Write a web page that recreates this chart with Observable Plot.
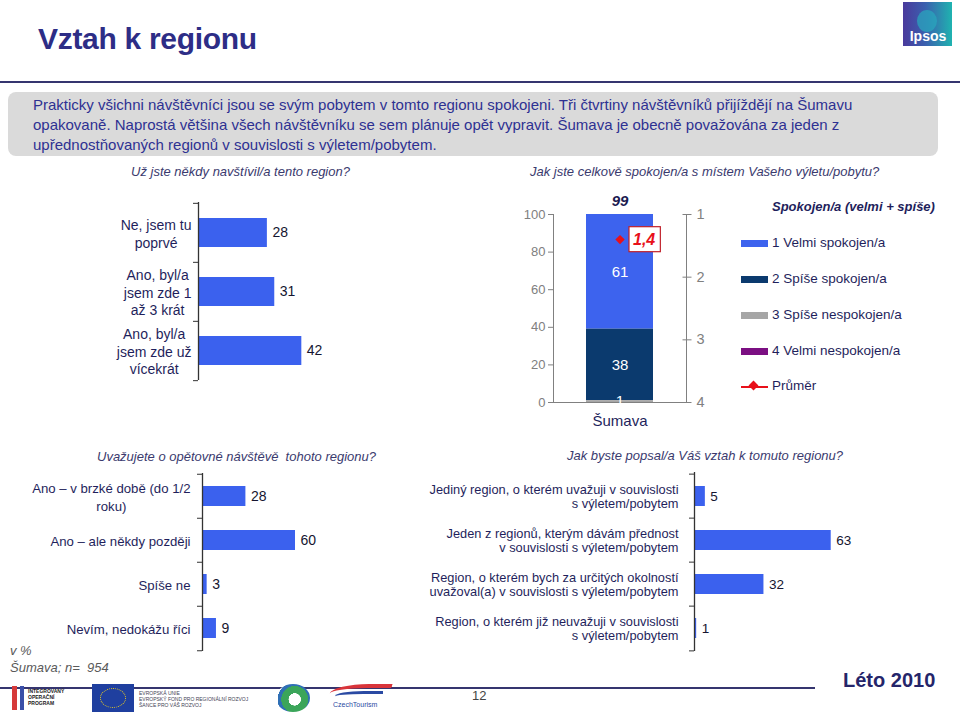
<!DOCTYPE html>
<html>
<head>
<meta charset="utf-8">
<script src="https://cdn.jsdelivr.net/npm/d3@7"></script>
<script src="https://cdn.jsdelivr.net/npm/@observablehq/plot@0.6"></script>
<style>
  html, body { margin: 0; padding: 0; background: #fff; }
  #page { position: relative; width: 960px; height: 715px; overflow: hidden; font-family: 'Liberation Sans', Arial, sans-serif; }
  .abs { position: absolute; }
  .q { font-size: 13px; font-style: italic; color: #3a3a6e; line-height: 16px; white-space: nowrap; }
  .legend-item { position: absolute; left: 741px; height: 18px; font-size: 13.5px; color: #1f1f5c; line-height: 18px; white-space: nowrap; }
  .sw { position: absolute; left: 0; top: 6px; width: 27px; height: 7px; }
  .legend-item span.t { position: absolute; left: 31px; top: 0; }
  .tiny { font-size: 5px; line-height: 6px; color: #445; white-space: nowrap; }
</style>
</head>
<body>
<div id="page">
  <div class="abs" style="left:38px;top:24px;font-size:30px;line-height:30px;font-weight:bold;color:#2d2d86;letter-spacing:-0.3px;">Vztah k regionu</div>
  <div class="abs" style="left:903px;top:2px;width:49px;height:44px;background:linear-gradient(90deg,#4a3a9c 0%,#3b5fae 45%,#1fb3b0 100%);"></div>
  <div class="abs" style="left:917px;top:10px;width:20px;height:22px;border-radius:50%;background:rgba(40,170,190,0.7);"></div>
  <div class="abs" style="left:905px;top:28px;width:46px;text-align:center;font-size:14px;font-weight:bold;color:#fff;line-height:16px;">Ipsos</div>
  <div class="abs" style="left:0;top:81px;width:960px;height:2px;background:#35356f;"></div>
  <div class="abs" style="left:8px;top:92px;width:930px;height:64px;background:#dadada;border-radius:8px;"></div>
  <div class="abs" style="left:33px;top:95px;font-size:15px;line-height:20px;color:#2e3192;white-space:nowrap;">Prakticky všichni návštěvníci jsou se svým pobytem v tomto regionu spokojeni. Tři čtvrtiny návštěvníků přijíždějí na Šumavu<br>opakovaně. Naprostá většina všech návštěvníku se sem plánuje opět vypravit. Šumava je obecně považována za jeden z<br>upřednostňovaných regionů v souvislosti s výletem/pobytem.</div>

  <div class="abs q" style="left:131px;top:164px;">Už jste někdy navštívil/a tento region?</div>
  <div class="abs q" style="left:530px;top:164px;">Jak jste celkově spokojen/a s místem Vašeho výletu/pobytu?</div>
  <div class="abs q" style="left:97px;top:449px;">Uvažujete o opětovné návštěvě&nbsp; tohoto regionu?</div>
  <div class="abs q" style="left:567px;top:448px;">Jak byste popsal/a Váš vztah k tomuto regionu?</div>

  <div id="chartA" class="abs" style="left:0;top:195px;"></div>
  <div id="chartB" class="abs" style="left:500px;top:190px;"></div>
  <div id="legendB" class="abs" style="left:0;top:0;"></div>
  <div id="chartC" class="abs" style="left:0;top:465px;"></div>
  <div id="chartD" class="abs" style="left:420px;top:465px;"></div>

  <div class="abs" style="left:10px;top:643px;font-size:13px;line-height:16px;font-style:italic;color:#5a5a5a;">v %</div>
  <div class="abs" style="left:10px;top:660px;font-size:13px;line-height:16px;font-style:italic;color:#5a5a5a;white-space:nowrap;">Šumava; n=&nbsp; 954</div>
  <div class="abs" style="left:0;top:687px;width:815px;height:2px;background:#35356f;"></div>
  <div class="abs" style="left:843px;top:669px;font-size:20px;line-height:22px;font-weight:bold;color:#25256a;white-space:nowrap;">Léto 2010</div>
  <div class="abs" style="left:472px;top:688px;font-size:13px;line-height:15px;color:#444;">12</div>

  <!-- footer logos (approximate) -->
  <div class="abs" style="left:12px;top:686px;width:5px;height:24px;background:#d63a3a;"></div>
  <div class="abs" style="left:20px;top:686px;width:4px;height:24px;background:#3a4fa8;"></div>
  <div class="abs tiny" style="left:28px;top:688px;font-weight:bold;color:#222;">INTEGROVANÝ<br>OPERAČNÍ<br>PROGRAM</div>
  <div class="abs" style="left:92px;top:684px;width:42px;height:28px;background:#1f3f9f;"></div>
  <div class="abs" style="left:100px;top:688px;width:26px;height:20px;border:1.5px dotted #f2d01c;border-radius:50%;box-sizing:border-box;"></div>
  <div class="abs tiny" style="left:139px;top:690px;">EVROPSKÁ UNIE<br>EVROPSKÝ FOND PRO REGIONÁLNÍ ROZVOJ<br>ŠANCE PRO VÁŠ ROZVOJ</div>
  <div class="abs" style="left:276px;top:684px;width:34px;height:28px;border-radius:50%;background:radial-gradient(circle at 55% 55%,#ffffff 0 25%,#3ba55a 26% 55%,#2f6fb5 56% 70%,#fff 71%);"></div>
  <div class="abs" style="left:330px;top:684px;width:60px;height:12px;border-top:4px solid #d9343a;border-radius:60% 0 0 0;transform:skewX(-20deg);"></div>
  <div class="abs" style="left:335px;top:691px;width:48px;height:6px;border-top:3px solid #2a4aa3;border-radius:60% 0 0 0;"></div>
  <div class="abs" style="left:333px;top:701px;font-size:7px;line-height:8px;color:#2a4aa3;">CzechTourism</div>
</div>

<script>
// ---------------- data ----------------
const visitCats = ["Ne, jsem tu\npoprvé", "Ano, byl/a\njsem zde 1\naž 3 krát", "Ano, byl/a\njsem zde už\nvícekrát"];
const visitVals = [28, 31, 42];

const satRegion = "Šumava";
const satCats = ["1 Velmi spokojen/a", "2 Spíše spokojen/a", "3 Spíše nespokojen/a", "4 Velmi nespokojen/a"];
const satVals = [61, 38, 1, 0];
const satColors = ["#3d63ee", "#0b3a6e", "#a6a6a6", "#7b0f82"];
const satTotalLabel = 99;
const satMean = 1.4;
const satLeftTicks = [0, 20, 40, 60, 80, 100];
const satMeanTicks = [1, 2, 3, 4];
const legendTitle = "Spokojen/a (velmi + spíše)";
const meanName = "Průměr";

const returnCats = ["Ano – v brzké době (do 1/2\nroku)", "Ano – ale někdy později", "Spíše ne", "Nevím, nedokážu říci"];
const returnVals = [28, 60, 3, 9];

const relCats = [
  "Jediný region, o kterém uvažuji v souvislosti\ns výletem/pobytem",
  "Jeden z regionů, kterým dávám přednost\nv souvislosti s výletem/pobytem",
  "Region, o kterém bych za určitých okolností\nuvažoval(a) v souvislosti s výletem/pobytem",
  "Region, o kterém již neuvažuji v souvislosti\ns výletem/pobytem"
];
const relVals = [5, 63, 32, 1];

// ---------------- styles ----------------
const fontFamily = "'Liberation Sans', Arial, sans-serif";
const barBlue = "#3b61ee";
const axisDark = "#333333";
const axisGrey = "#808080";
const labelInk = "#1f1f5c";
const valueInk = "#151530";
const meanRed = "#e8101a";

const ctx = document.createElement("canvas").getContext("2d");
function maxLineWidth(s, size) {
  ctx.font = `${size}px 'Liberation Sans', Arial`;
  return d3.max(s.split("\n"), l => ctx.measureText(l).width);
}

function hbar(o) {
  const data = o.cats.map((c, i) => ({cat: c, value: o.vals[i]}));
  const plotH = o.height - o.mt - o.mb;
  const step = plotH / o.cats.length;
  const k = (o.width - o.ml - o.mr) / 100;
  const tick = 5 / k;
  const labelMark = o.align === "center"
    ? Plot.text(data, {x: d => -(o.gap + maxLineWidth(d.cat, o.fs) / 2) / k, y: "cat", text: "cat", textAnchor: "middle", fontSize: o.fs, lineHeight: o.lh, fill: labelInk})
    : Plot.text(data, {x: () => 0, y: "cat", text: "cat", dx: -o.gap, textAnchor: "end", fontSize: o.fs, lineHeight: o.lh, fill: labelInk});
  return Plot.plot({
    width: o.width, height: o.height,
    marginLeft: o.ml, marginRight: o.mr, marginTop: o.mt, marginBottom: o.mb,
    x: {domain: [0, 100], axis: null},
    y: {domain: o.cats, axis: null, paddingInner: o.pad, paddingOuter: o.pad / 2},
    style: {fontFamily, background: "transparent", overflow: "visible"},
    marks: [
      Plot.barX(data, {x: "value", y: "cat", fill: barBlue}),
      Plot.ruleX([0], {stroke: axisDark, strokeWidth: 1.3}),
      Plot.ruleY(o.cats, {y: d => d, x1: -tick, x2: 0, dy: -step / 2, stroke: axisDark}),
      Plot.ruleY(o.cats.slice(-1), {y: d => d, x1: -tick, x2: 0, dy: step / 2, stroke: axisDark}),
      Plot.text(data, {x: "value", y: "cat", text: d => String(d.value), textAnchor: "start", dx: 5, fontSize: o.vfs, fill: valueInk}),
      labelMark
    ]
  });
}

// Chart A
document.getElementById("chartA").append(hbar({
  cats: visitCats, vals: visitVals, width: 460, height: 192,
  ml: 198, mr: 16, mt: 7, mb: 7, pad: 0.51,
  fs: 14, lh: 1.27, vfs: 14, align: "center", gap: 7
}));

// Chart C
document.getElementById("chartC").append(hbar({
  cats: returnCats, vals: returnVals, width: 420, height: 192,
  ml: 202, mr: 63, mt: 8, mb: 6, pad: 0.55,
  fs: 13.2, lh: 1.3, vfs: 14, align: "center", gap: 12
}));

// Chart D
document.getElementById("chartD").append(hbar({
  cats: relCats, vals: relVals, width: 540, height: 192,
  ml: 274, mr: 49, mt: 7, mb: 6, pad: 0.55,
  fs: 12.8, lh: 1.1, vfs: 13.5, align: "end", gap: 16
}));

// Chart B: stacked satisfaction + mean on secondary (1..4) axis
const satData = satCats.map((c, i) => ({region: satRegion, cat: c, value: satVals[i]}));
const stackOrder = satCats.slice().reverse();
const toLeft = v => (4 - v) / 3 * 100;      // map 1..4 (top..bottom) onto 100..0
const fromLeft = y => 4 - y / 100 * 3;
const bW = 230, bH = 245, bML = 53, bMR = 44, bMT = 24, bMB = 33;
const bStep = bW - bML - bMR;                 // single band: step = frame width
const fmtComma = v => String(v).replace(".", ",");

const satPlot = Plot.plot({
  width: bW, height: bH, marginLeft: bML, marginRight: bMR, marginTop: bMT, marginBottom: bMB,
  x: {domain: [satRegion], paddingInner: 0.5, paddingOuter: 0.25, axis: null},
  y: {domain: [0, 100], axis: null},
  color: {domain: satCats, range: satColors},
  style: {fontFamily, background: "transparent", overflow: "visible"},
  marks: [
    Plot.barY(satData, {x: "region", y: "value", fill: "cat", order: stackOrder}),
    Plot.ruleY([0], {stroke: axisGrey}),
    Plot.ruleX([satRegion], {dx: -bStep / 2, stroke: axisGrey}),
    Plot.ruleX([satRegion], {dx: bStep / 2, stroke: axisGrey}),
    Plot.axisY(satLeftTicks, {anchor: "left", tickSize: 5, tickPadding: 3, fontSize: 13, color: axisGrey, label: null}),
    Plot.axisY(satMeanTicks.map(toLeft), {anchor: "right", tickSize: 9, dx: -4.5, tickFormat: () => "", color: axisGrey, label: null}),
    Plot.axisY(satMeanTicks.map(toLeft), {anchor: "right", tickSize: 0, tickPadding: 10, fontSize: 14.5, color: axisGrey, label: null, tickFormat: y => String(Math.round(fromLeft(y)))}),
    Plot.axisX({anchor: "bottom", tickSize: 0, tickPadding: 13, fontSize: 15, color: labelInk, label: null}),
    Plot.text(satData.filter(d => d.value > 0), Plot.stackY({x: "region", y: "value", z: "cat", order: stackOrder, text: d => String(d.value), fill: "white", fontSize: 15})),
    Plot.text([satTotalLabel], {x: () => satRegion, y: () => d3.sum(satVals), dy: -13, text: d => String(d), fontSize: 15, fontWeight: "bold", fontStyle: "italic", fill: "#1a1a50"}),
    Plot.dot([satMean], {x: () => satRegion, y: d => toLeft(d), symbol: "diamond2", r: 4.2, fill: meanRed}),
    Plot.text([satMean], {x: () => satRegion, y: d => toLeft(d), text: d => fmtComma(d), dx: 13, textAnchor: "start", fontSize: 16, fontWeight: "bold", fontStyle: "italic", fill: meanRed})
  ]
});
document.getElementById("chartB").append(satPlot);
// white box with red border behind the mean label
const meanText = fmtComma(satMean);
satPlot.querySelectorAll("text").forEach(t => {
  if (t.textContent !== meanText || t.getAttribute("fill") === "white") return;
  const b = t.getBBox();
  const r = document.createElementNS("http://www.w3.org/2000/svg", "rect");
  r.setAttribute("x", b.x - 4);
  r.setAttribute("y", b.y - 4);
  r.setAttribute("width", b.width + 9);
  r.setAttribute("height", b.height + 8);
  r.setAttribute("fill", "white");
  r.setAttribute("stroke", "#c0202a");
  r.setAttribute("stroke-width", "1.2");
  if (t.getAttribute("transform")) r.setAttribute("transform", t.getAttribute("transform"));
  t.parentNode.insertBefore(r, t);
});

// Legend for chart B (HTML, colours from the same arrays)
const legend = document.getElementById("legendB");
const lt = document.createElement("div");
lt.className = "abs";
lt.style.cssText = "left:772px;top:199px;font-size:13px;line-height:16px;font-weight:bold;font-style:italic;color:#1f1f5c;white-space:nowrap;";
lt.textContent = legendTitle;
legend.append(lt);
satCats.forEach((c, i) => {
  const it = document.createElement("div");
  it.className = "legend-item";
  it.style.top = (234 + i * 36) + "px";
  it.innerHTML = `<div class="sw" style="background:${satColors[i]}"></div><span class="t"></span>`;
  it.querySelector(".t").textContent = c;
  legend.append(it);
});
const mi = document.createElement("div");
mi.className = "legend-item";
mi.style.top = (234 + 4 * 36 - 1) + "px";
mi.innerHTML = `<div style="position:absolute;left:0;top:9px;width:27px;height:2px;background:${meanRed}"></div><div style="position:absolute;left:9px;top:5px;width:7px;height:7px;background:${meanRed};transform:rotate(45deg)"></div><span class="t"></span>`;
mi.querySelector(".t").textContent = meanName;
legend.append(mi);
</script>
</body>
</html>
